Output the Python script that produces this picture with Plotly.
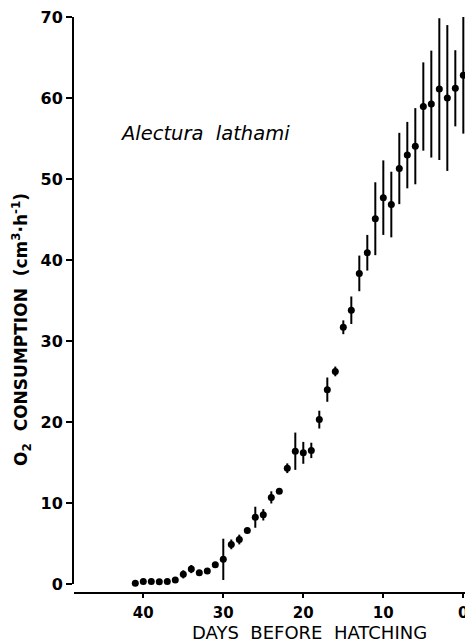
import plotly.graph_objects as go

# Days before hatching (41 ... 0)
days = [41, 40, 39, 38, 37, 36, 35, 34, 33, 32, 31, 30, 29, 28, 27, 26, 25, 24, 23, 22, 21,
        20, 19, 18, 17, 16, 15, 14, 13, 12, 11, 10, 9, 8, 7, 6, 5, 4, 3, 2, 1, 0]
# O2 consumption (cm3 h-1)
o2 = [0.1, 0.33, 0.33, 0.3, 0.33, 0.5, 1.2, 1.85, 1.4, 1.6, 2.4, 3.05, 4.9, 5.5, 6.6, 8.25,
      8.55, 10.7, 11.45, 14.3, 16.4, 16.2, 16.5, 20.3, 24.0, 26.25, 31.7, 33.8, 38.35, 40.9,
      45.1, 47.7, 46.85, 51.3, 52.95, 54.05, 58.95, 59.25, 61.1, 60.0, 61.2, 62.8]
# error bar half-lengths
err = [0, 0, 0, 0, 0, 0, 0.5, 0.5, 0, 0, 0, 2.55, 0.6, 0.6, 0.3, 1.3, 0.7, 0.75, 0.3, 0.6,
       2.3, 1.35, 0.95, 1.1, 1.5, 0.6, 0.85, 1.7, 2.2, 2.2, 4.5, 4.6, 4.05, 4.4, 4.1, 4.7,
       5.45, 6.6, 8.75, 9.0, 4.7, 7.2]

x_ticks = [40, 30, 20, 10, 0]
x_tick_labels = ["40", "30", "20", "10", "0"]
y_ticks = [0, 10, 20, 30, 40, 50, 60, 70]
y_tick_labels = ["0", "10", "20", "30", "40", "50", "60", "70"]

fig = go.Figure()
fig.add_trace(go.Scatter(
    x=days, y=o2, mode="markers",
    marker=dict(color="black", size=7),
    error_y=dict(type="data", array=err, visible=True, color="black", thickness=2, width=0),
    cliponaxis=False, showlegend=False,
))

font_main = "DejaVu Sans"
fig.update_layout(
    width=465, height=636,
    margin=dict(l=66, r=0, t=5, b=51),
    paper_bgcolor="white", plot_bgcolor="white",
    xaxis=dict(
        range=[48.66, -1.21], anchor="free", position=0,
        showline=True, linecolor="black", linewidth=2,
        ticks="outside", ticklen=4, tickwidth=2, tickcolor="black",
        tickvals=x_ticks, ticktext=x_tick_labels,
        ticklabeloverflow="allow", ticklabelstandoff=2,
        tickfont=dict(family=font_main, size=15, color="black", weight="bold"),
        showgrid=False, zeroline=False,
    ),
    yaxis=dict(
        range=[0, 70], domain=[0.0155, 1],
        showline=True, linecolor="black", linewidth=2,
        ticks="outside", ticklen=6, tickwidth=2, tickcolor="black",
        tickvals=y_ticks, ticktext=y_tick_labels,
        ticklabeloverflow="allow",
        tickfont=dict(family=font_main, size=16, color="black", weight="bold"),
        showgrid=False, zeroline=False,
    ),
    annotations=[
        dict(text="O<sub>2</sub>  CONSUMPTION  (cm<sup>3</sup>·h<sup>-1</sup>)",
             xref="paper", yref="paper", x=-0.13, y=0.457, textangle=-90,
             showarrow=False, xanchor="center", yanchor="middle",
             font=dict(family=font_main, size=17, color="black", weight="bold")),
        dict(text="DAYS  BEFORE  HATCHING",
             xref="paper", yref="paper", x=0.589, y=-0.069,
             showarrow=False, xanchor="center", yanchor="middle",
             font=dict(family=font_main, size=18, color="black")),
        dict(text="Alectura  lathami",
             xref="paper", yref="paper", x=0.328, y=0.797,
             showarrow=False, xanchor="center", yanchor="middle",
             font=dict(family=font_main, size=19.5, color="black", style="italic")),
    ],
)

fig.write_html("out.html")
